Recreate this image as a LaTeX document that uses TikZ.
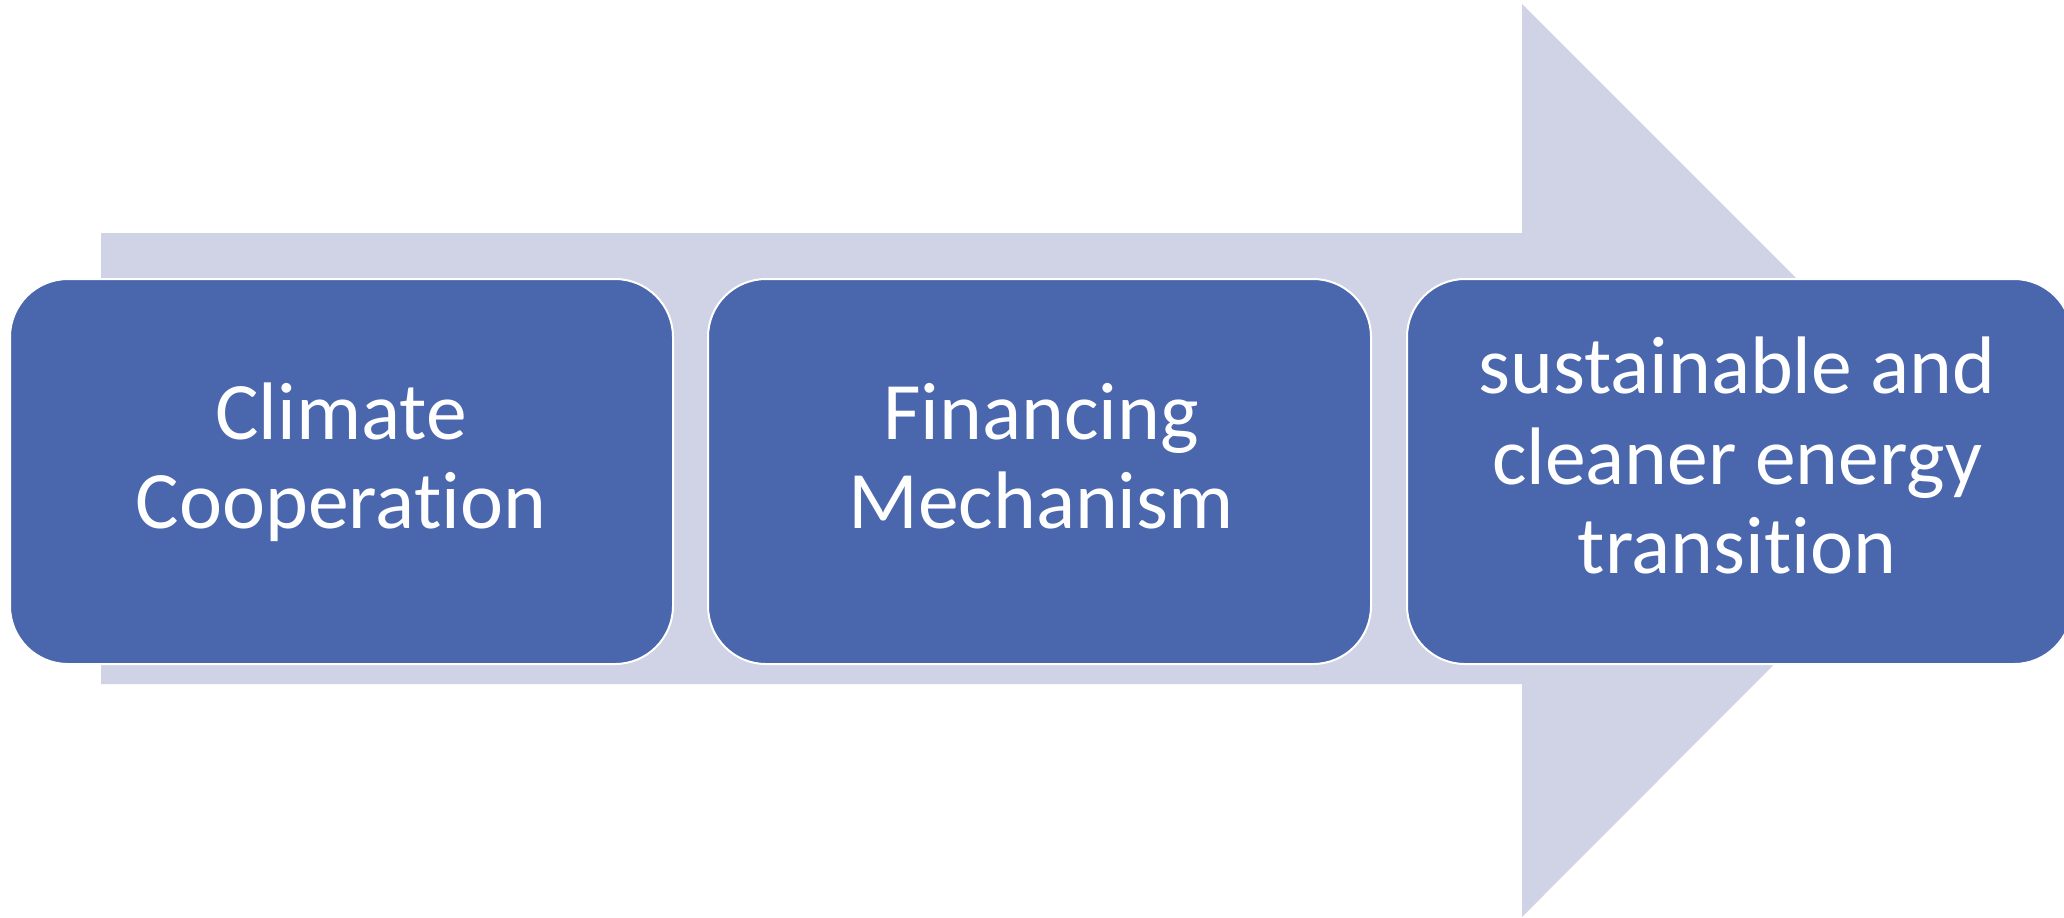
\documentclass[tikz,border=0pt]{standalone}
\usepackage{fontspec}
\setmainfont[Ligatures=NoCommon]{Carlito}
\definecolor{arrowc}{HTML}{D0D3E5}
\definecolor{boxc}{HTML}{4A67AD}
\begin{document}
\begin{tikzpicture}[x=0.5pt,y=-0.5pt,
  stage/.style={fill=boxc,draw=white,line width=1pt,rounded corners=29pt},
  lbl/.style={text=white,anchor=base,font=\fontsize{40.8}{45}\selectfont,inner sep=0pt}]
\useasboundingbox (0,0) rectangle (2064,917);
\fill[arrowc] (101,233) -- (1522,233) -- (1522,4) -- (1978,460) -- (1522,917) -- (1522,684) -- (101,684) -- cycle;
\begin{scope}
\clip (0,0) rectangle (2064,917);
\draw[stage] (10,279) rectangle (673,664);
\draw[stage] (708,279) rectangle (1371,664);
\draw[stage] (1407,279) rectangle (2072,664);
\end{scope}
\node[lbl] (a1) at (341,439) {Climate};
\node[lbl] (a2) at (341,528) {Cooperation};
\node[lbl] (b1) at (1041,439) {Financing};
\node[lbl] (b2) at (1041,528) {Mechanism};
\node[lbl] (c1) at (1737,393) {sustainable and};
\node[lbl] (c2) at (1737,484) {cleaner energy};
\node[lbl] (c3) at (1737,573) {transition};
\end{tikzpicture}
\end{document}
